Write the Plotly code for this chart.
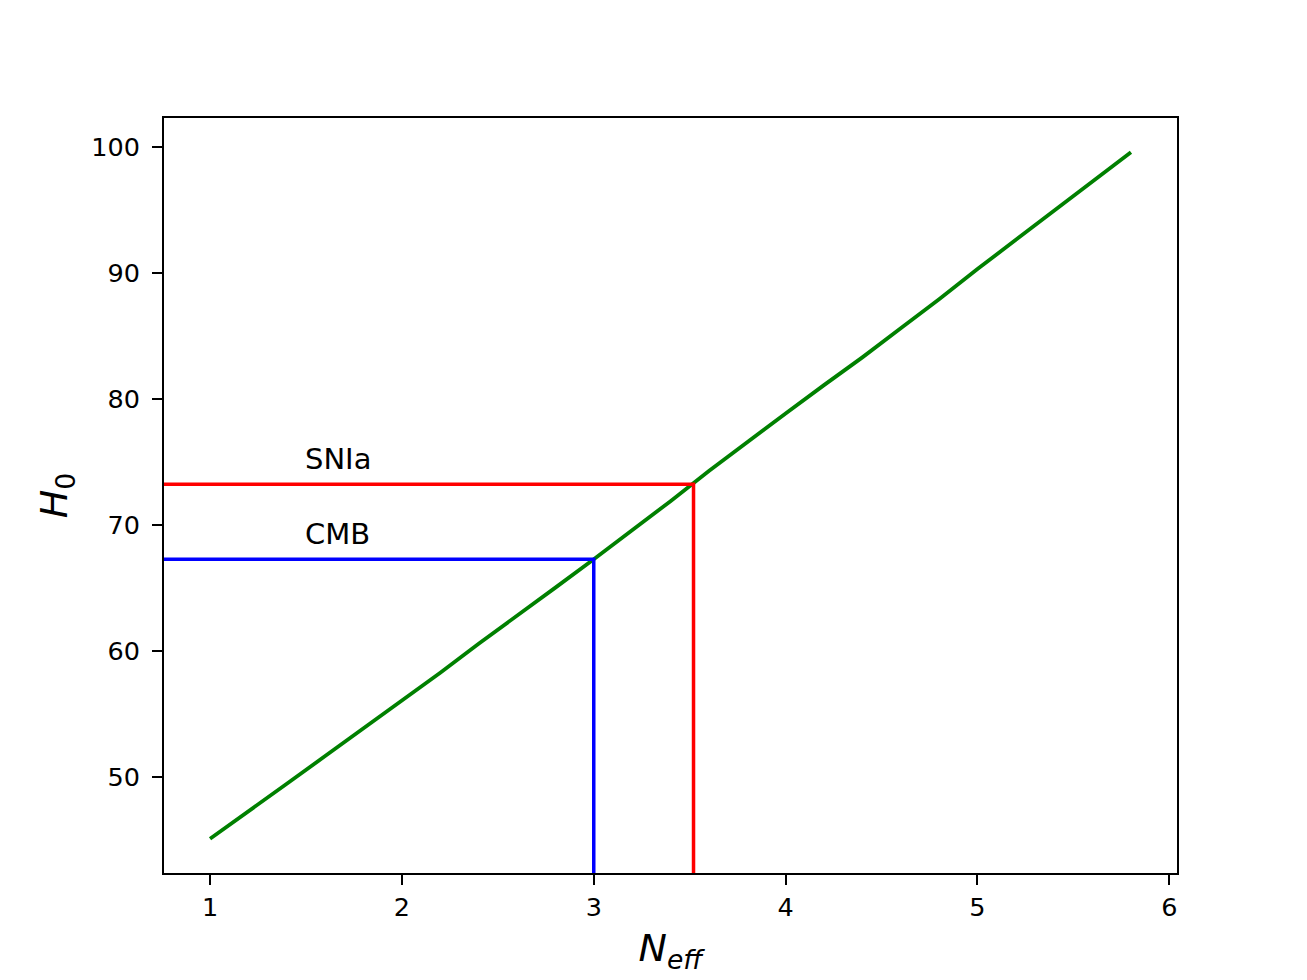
import plotly.graph_objects as go

# H0 as a function of N_eff
n_eff = [1.0, 1.2, 1.4, 1.6, 1.8, 2.0, 2.2, 2.4, 2.6, 2.8, 3.0, 3.2, 3.4,
         3.6, 3.8, 4.0, 4.2, 4.4, 4.6, 4.8, 5.0, 5.2, 5.4, 5.6, 5.8]
h0 = [45.15, 47.3, 49.5, 51.7, 53.9, 56.1, 58.3, 60.6, 62.8, 65.05, 67.3, 69.6, 71.9,
      74.3, 76.6, 78.85, 81.1, 83.3, 85.6, 87.9, 90.3, 92.6, 94.9, 97.2, 99.55]

# measurements
snia_n, snia_h0 = 3.52, 73.24
cmb_n, cmb_h0 = 3.0, 67.3
label_x = 1.5
x_ticks = [1, 2, 3, 4, 5, 6]
y_ticks = [50, 60, 70, 80, 90, 100]

# matplotlib-like 5% margins
xpad = 0.05 * (max(n_eff) - min(n_eff))
ypad = 0.05 * (max(h0) - min(h0))
xr = [min(n_eff) - xpad, max(n_eff) + xpad]
yr = [min(h0) - ypad, max(h0) + ypad]

FONT = "DejaVu Sans"

fig = go.Figure()
fig.add_scatter(x=n_eff, y=h0, mode="lines", line={"color": "#008000", "width": 3.8}, showlegend=False)
fig.add_scatter(x=[xr[0] - 1, snia_n, snia_n], y=[snia_h0, snia_h0, yr[0] - 10], mode="lines",
                line={"color": "#ff0000", "width": 3.5}, showlegend=False)
fig.add_scatter(x=[xr[0] - 1, cmb_n, cmb_n], y=[cmb_h0, cmb_h0, yr[0] - 10], mode="lines",
                line={"color": "#0000ff", "width": 3.5}, showlegend=False)

for txt, yv in [("SNIa", snia_h0 + 1), ("CMB", cmb_h0 + 1)]:
    fig.add_annotation(x=label_x, y=yv, text=txt, showarrow=False, xanchor="left", yanchor="bottom",
                       font={"family": FONT, "size": 29, "color": "black"}, xshift=-3, yshift=-6)

axis_common = dict(
    showline=True, linecolor="black", linewidth=2, mirror=True,
    ticks="outside", ticklen=10, tickwidth=2, tickcolor="black",
    showgrid=False, zeroline=False,
    tickfont={"family": FONT, "size": 25.5, "color": "black"},
)
fig.update_xaxes(range=xr, tickvals=x_ticks, **axis_common,
                 title={"text": "<i>N</i><sub><i>eff</i></sub>", "standoff": 14,
                        "font": {"family": FONT, "size": 38, "color": "black"}})
fig.update_yaxes(range=yr, tickvals=y_ticks, ticklabelstandoff=7, **axis_common,
                 title={"text": "<i>H</i><sub>0</sub>", "standoff": 12,
                        "font": {"family": FONT, "size": 38, "color": "black"}})
fig.update_layout(
    width=1307, height=980,
    margin={"l": 156, "r": 138, "t": 110, "b": 115},
    plot_bgcolor="white", paper_bgcolor="white",
)
fig.write_html("out.html")
